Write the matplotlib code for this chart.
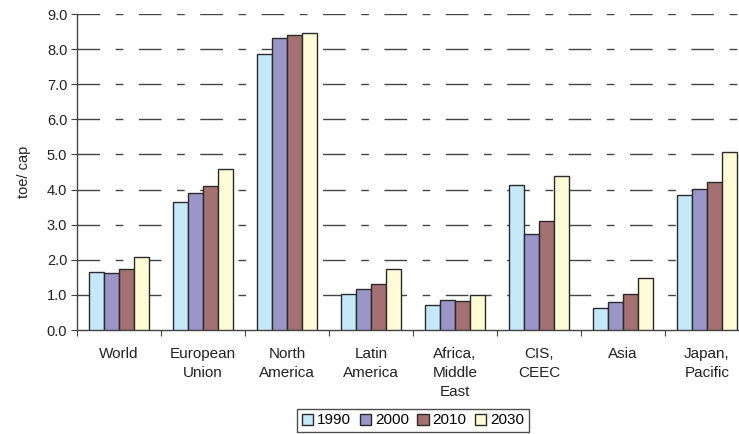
import matplotlib.pyplot as plt
import numpy as np

plt.rcParams['font.family'] = ['Liberation Sans', 'DejaVu Sans']

regions = ['World', 'European\nUnion', 'North\nAmerica', 'Latin\nAmerica',
           'Africa,\nMiddle\nEast', 'CIS,\nCEEC', 'Asia', 'Japan,\nPacific']
years = ['1990', '2000', '2010', '2030']
v1990 = [1.66, 3.64, 7.85, 1.02, 0.71, 4.12, 0.62, 3.84]
v2000 = [1.62, 3.91, 8.33, 1.18, 0.85, 2.74, 0.79, 4.03]
v2010 = [1.75, 4.10, 8.40, 1.32, 0.83, 3.10, 1.02, 4.22]
v2030 = [2.09, 4.59, 8.45, 1.75, 1.00, 4.38, 1.49, 5.08]
colors = ['#c6e9fa', '#9a96c8', '#a37171', '#fffbd6']

fig = plt.figure(figsize=(7.39, 4.34), dpi=100)
ax = fig.add_axes([77 / 739, 104 / 434, 672 / 739, 316 / 434])

x = np.arange(len(regions))
w = 0.18
handles = []
for i, (vals, yr) in enumerate(zip([v1990, v2000, v2010, v2030], years)):
    b = ax.bar(x + (i - 1.5) * w, vals, width=w, color=colors[i],
               edgecolor='#2a2a2a', linewidth=1.0, label=yr, zorder=3)
    handles.append(b)

ax.set_xlim(-0.5, len(regions) - 0.5)
ax.set_ylim(0, 9)
ax.set_yticks(np.arange(0, 9.5, 1.0))
ax.set_yticklabels([f'{v:.1f}' for v in np.arange(0, 9.5, 1.0)])

# category boundaries get tick marks, names sit in between
ax.set_xticks(np.arange(-0.5, len(regions), 1.0))
ax.set_xticklabels([])
ax.set_xticks(x, minor=True)
ax.set_xticklabels(regions, minor=True, linespacing=1.42)
ax.tick_params(axis='x', which='minor', length=0, pad=12.5, labelsize=11,
               labelcolor='#222222')
ax.tick_params(axis='x', which='major', length=4, color='#444444', direction='out')
ax.tick_params(axis='y', length=4, color='#444444', direction='out',
               labelsize=10.5, labelcolor='#222222', pad=3)

for yv in np.arange(1, 9.5, 1.0):
    ax.axhline(yv, color='#444444', linewidth=1.0,
               linestyle=(0, (16.3, 11.2, 5.5, 11.2)), zorder=1)

for s in ['top', 'right']:
    ax.spines[s].set_visible(False)
for s in ['left', 'bottom']:
    ax.spines[s].set_color('#444444')
    ax.spines[s].set_linewidth(1.0)

ax.set_ylabel('toe/ cap', fontsize=10.5, color='#222222', labelpad=11)

leg = fig.legend(handles=handles, labels=years, loc='center',
                 bbox_to_anchor=(413 / 739, 1 - 420.5 / 434), ncol=4,
                 frameon=True, fancybox=False, fontsize=11,
                 handlelength=0.75, handleheight=0.75, handletextpad=0.25,
                 columnspacing=0.55, borderpad=0.3, borderaxespad=0)
leg.get_frame().set_edgecolor('#222222')
leg.get_frame().set_linewidth(1.0)

fig.savefig('out.png', dpi=100)
